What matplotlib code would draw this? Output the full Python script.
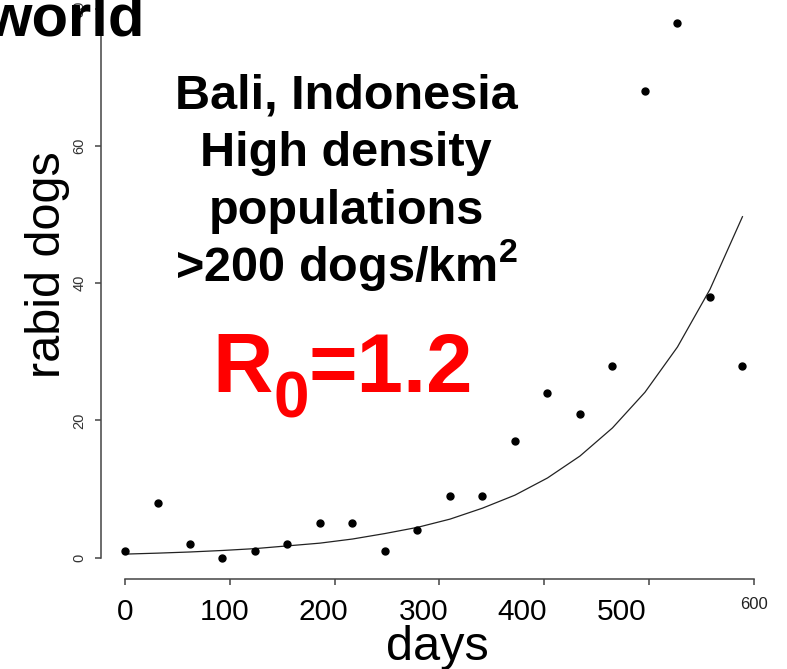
import matplotlib
matplotlib.use("Agg")
import matplotlib.pyplot as plt

# monthly rabid dog counts, Bali
days = [0, 31, 62, 93, 124, 155, 186, 217, 248, 279,
        310, 341, 372, 403, 434, 465, 496, 527, 558, 589]
cases = [1, 8, 2, 0, 1, 2, 5, 5, 1, 4,
         9, 9, 17, 24, 21, 28, 68, 78, 38, 28]
# fitted exponential curve
fit = [0.5, 0.64, 0.81, 1.03, 1.3, 1.7, 2.1, 2.7, 3.5, 4.4,
       5.6, 7.2, 9.1, 11.6, 14.8, 18.9, 24.1, 30.7, 39.1, 49.7]

yticks = [0, 20, 40, 60, 80]
xticks = [0, 100, 200, 300, 400, 500, 600]
xtick_labels = ['', '', '', '', '', '', '600']
slide_labels = ['0', '100', '200', '300', '400', '500']
box_lines = ['Bali, Indonesia', 'High density', 'populations', '>200 dogs/km$^\\mathbf{2}$']

W, H = 787, 669
fig = plt.figure(figsize=(W / 100, H / 100), dpi=100)
plt.rcParams['font.family'] = ['Liberation Sans', 'DejaVu Sans']
plt.rcParams['mathtext.fontset'] = 'custom'
plt.rcParams['mathtext.rm'] = 'Liberation Sans'
plt.rcParams['mathtext.bf'] = 'Liberation Sans:bold'


def px(x, y):
    return x / W, 1 - y / H


ax = fig.add_axes([101 / W, (H - 579) / H, (W - 101) / W, 579 / H])
ax.plot(days, fit, color='#222222', lw=0.9)
ax.plot(days, cases, 'o', color='black', ms=5)

ax.set_xlim(-22.9, 631.5)
ax.set_ylim(-3.13, 81.3)
for s in ['top', 'right']:
    ax.spines[s].set_visible(False)
ax.spines['bottom'].set_bounds(0, 600)
ax.spines['left'].set_bounds(0, 81.3)
for s in ['bottom', 'left']:
    ax.spines[s].set_color('#444444')
    ax.spines[s].set_linewidth(1.1)

ax.set_xticks(xticks)
ax.set_xticklabels(xtick_labels, fontsize=12, color='#222222')
ax.set_yticks(yticks)
ax.set_yticklabels([str(v) for v in yticks], fontsize=10.5, color='#333333',
                   rotation=90, va='center')
ax.tick_params(axis='both', direction='out', length=4.3, width=1.1, color='#444444')
ax.tick_params(axis='x', pad=9)
ax.tick_params(axis='y', pad=6)

# slide text over the R plot
for i, lab in enumerate(slide_labels):
    fig.text(*px(125 + i * 99.4, 612), lab, fontsize=21.5, ha='center', va='center')
fig.text(*px(437, 660), 'days', fontsize=35, ha='center', va='baseline')
fig.text(*px(48, 265), 'rabid dogs', fontsize=35, rotation=90, ha='center', va='center')
fig.text(*px(145, 36), 'world', fontsize=43, fontweight='bold', ha='right', va='baseline')

for i, line in enumerate(box_lines):
    fig.text(*px(346, 108 + i * 58), line, fontsize=35, fontweight='bold',
             ha='center', va='baseline')

red = '#ff0000'
fig.text(*px(212, 392), 'R', fontsize=60, fontweight='bold', color=red, va='baseline')
fig.text(*px(274, 417), '0', fontsize=46, fontweight='bold', color=red, va='baseline')
fig.text(*px(309, 392), '=1.2', fontsize=60, fontweight='bold', color=red, va='baseline')

fig.savefig('out.png', dpi=100)
